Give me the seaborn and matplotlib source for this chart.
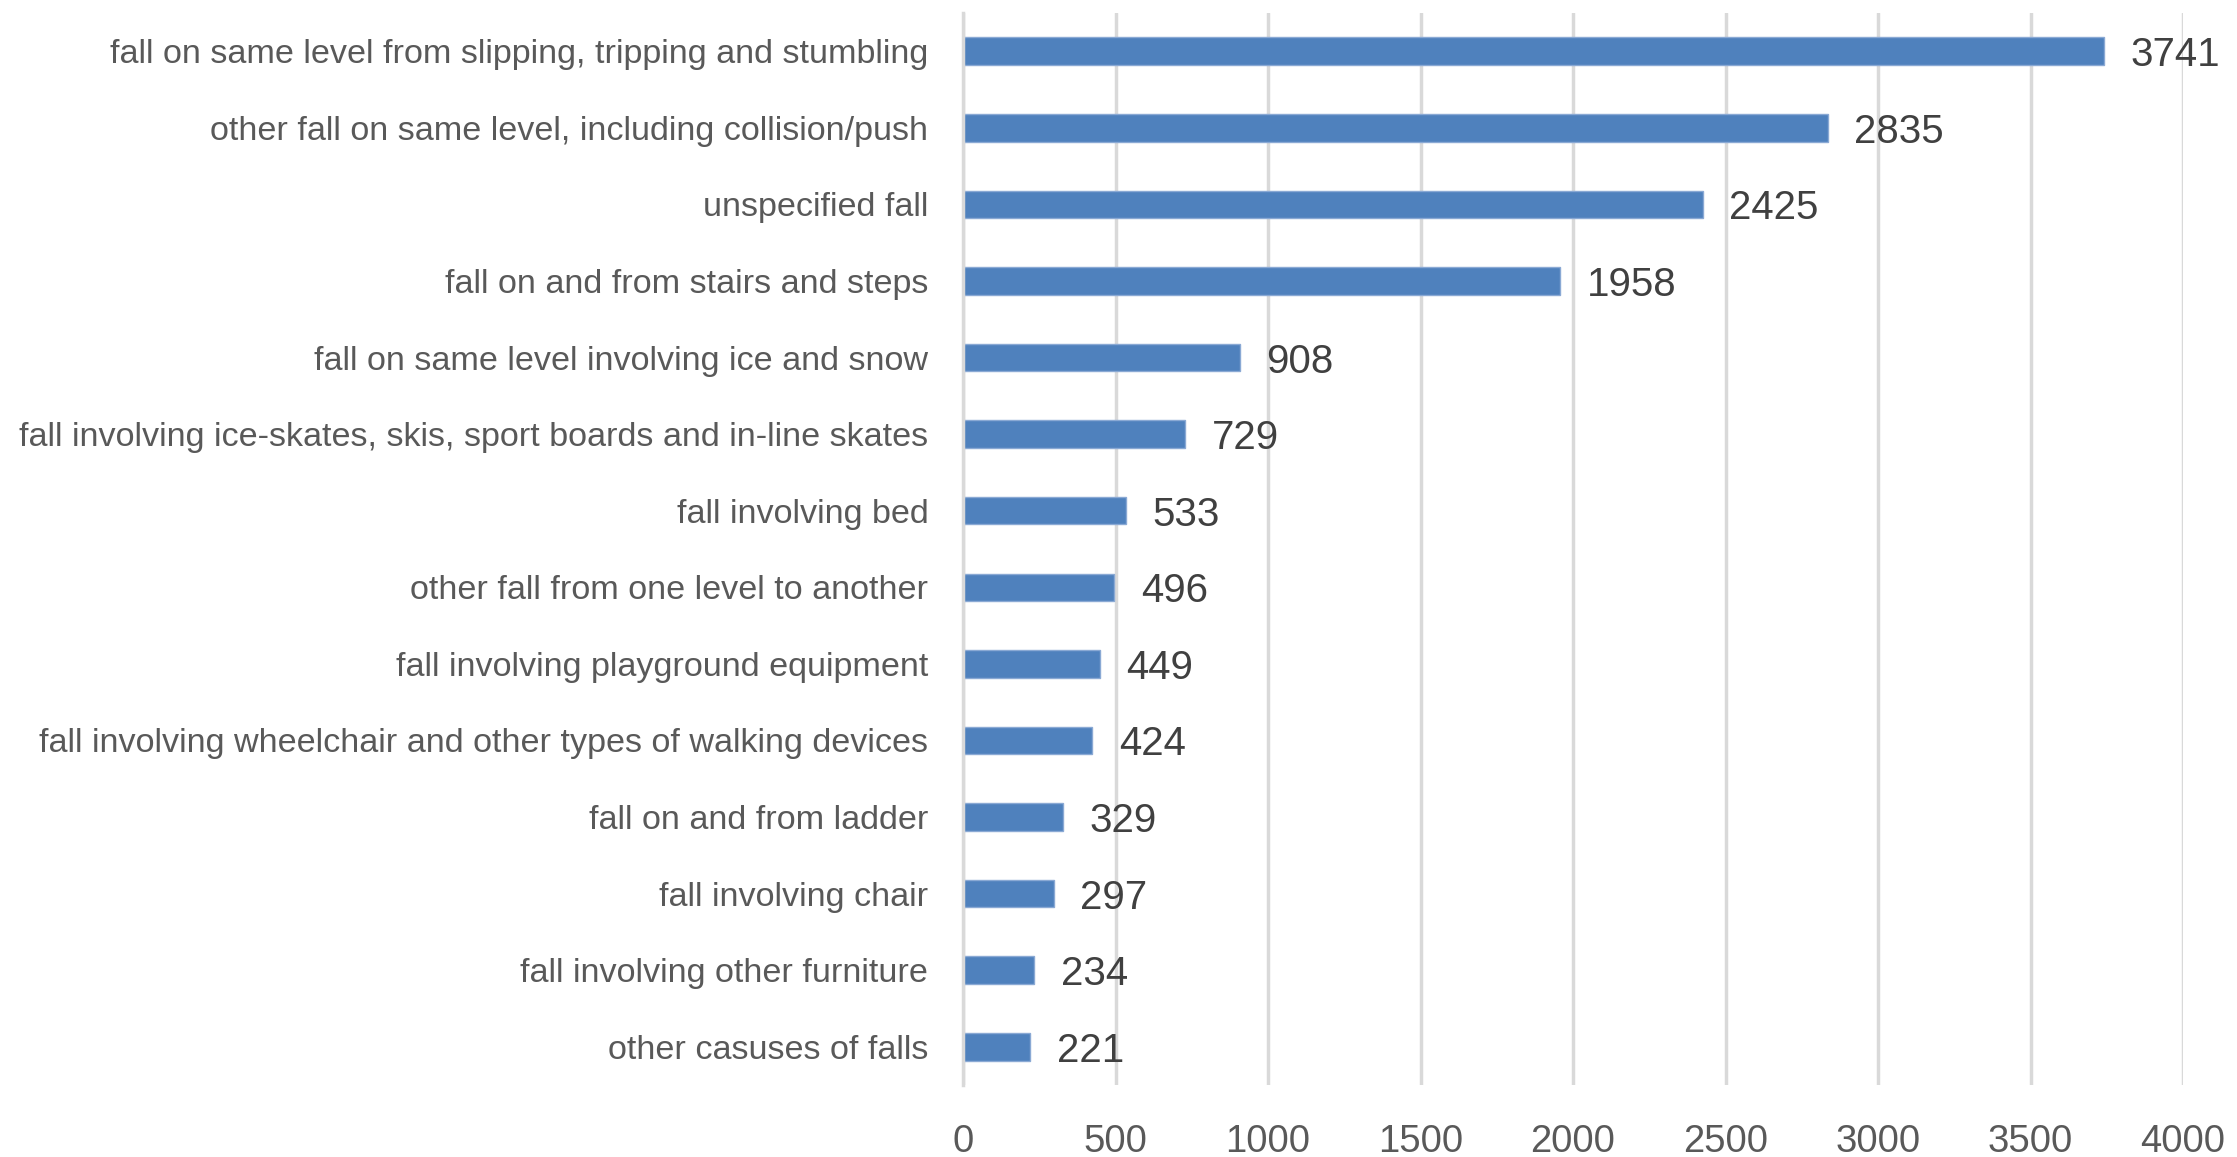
import pandas as pd
import matplotlib
matplotlib.use("Agg")
import matplotlib.pyplot as plt
import seaborn as sns

# Data
causes = [
    "fall on same level from slipping, tripping and stumbling",
    "other fall on same level, including collision/push",
    "unspecified fall",
    "fall on and from stairs and steps",
    "fall on same level involving ice and snow",
    "fall involving ice-skates, skis, sport boards and in-line skates",
    "fall involving bed",
    "other fall from one level to another",
    "fall involving playground equipment",
    "fall involving wheelchair and other types of walking devices",
    "fall on and from ladder",
    "fall involving chair",
    "fall involving other furniture",
    "other casuses of falls",
]
counts = [3741, 2835, 2425, 1958, 908, 729, 533, 496, 449, 424, 329, 297, 234, 221]
x_ticks = [0, 500, 1000, 1500, 2000, 2500, 3000, 3500, 4000]

df = pd.DataFrame({"cause": causes, "count": counts})

sns.set_style("white")
plt.rcParams["font.family"] = ["Liberation Sans", "DejaVu Sans"]

fig = plt.figure(figsize=(22.37, 11.57), dpi=100)
ax = fig.add_axes([0.4305, 0.0622, 0.5454, 0.9266])

sns.barplot(data=df, x="count", y="cause", order=causes, orient="h",
            color="#4f81bd", width=0.36, edgecolor="#8aa9d4", linewidth=1,
            saturation=1, ax=ax)

ax.set_xlim(0, 4000)
ax.set_ylim(len(causes) - 0.5, -0.5)
ax.set_xticks(x_ticks)
ax.set_xticklabels([str(t) for t in x_ticks])
ax.xaxis.grid(True, color="#d9d9d9", linewidth=2.5)
ax.set_axisbelow(True)
for s in ["top", "right", "bottom"]:
    ax.spines[s].set_visible(False)
ax.spines["left"].set_color("#d9d9d9")
ax.spines["left"].set_linewidth(2.5)

ax.tick_params(axis="x", length=0, pad=28, labelsize=27.5, labelcolor="#595959")
ax.tick_params(axis="y", length=0, pad=25, labelsize=24.6, labelcolor="#595959")
for lbl in ax.get_yticklabels():
    lbl.set_va("center_baseline")
ax.set_xlabel("")
ax.set_ylabel("")

# value labels to the right of each bar
texts = ax.bar_label(ax.containers[0], labels=[str(v) for v in counts], padding=19,
                     fontsize=29, color="#404040")
for t in texts:
    t.set_va("center_baseline")

fig.savefig("out.png", dpi=100)
